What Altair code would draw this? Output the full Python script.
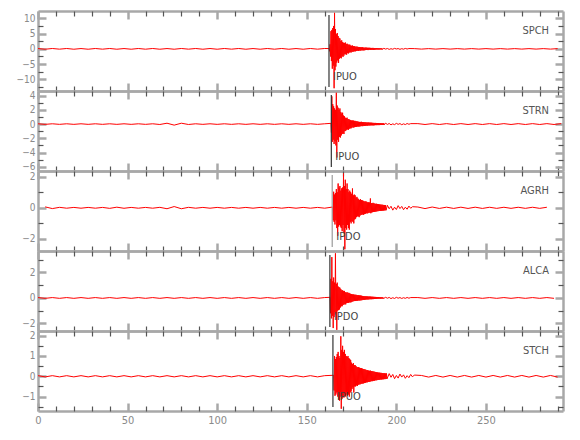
import altair as alt
import numpy as np
import pandas as pd

# ---------------- data ----------------
stations = ["SPCH", "STRN", "AGRH", "ALCA", "STCH"]
pick_times = [162.4, 163.7, 164.2, 162.9, 164.6]
pick_labels = ["IPUO", "IPUO", "IPDO", "IPDO", "IPUO"]

PRE_STEP, EVENT_STEP, CODA_STEP, TAIL_STEP = 4.0, 0.25, 1.0, 4.0
pre_start = [0.0, 0.0, 4.0, 0.0, 0.0]
event_start = [162.5, 163.5, 164.5, 163.0, 165.0]
coda_start = [193.0, 194.0, 195.0, 194.0, 196.0]
tail_start = [210.0, 212.0, 212.0, 212.0, 214.0]

# ---- SPCH ----
spch_pre = [0.1, -0.12, 0.12, -0.1, 0.12, -0.12, 0.1, -0.12, 0.12, -0.1,
            0.12, -0.12, 0.1, -0.12, 0.12, -0.11, 0.12, -0.12, 0.1, -0.12,
            0.12, -0.1, 0.12, -0.12, 0.11, -0.12, 0.12, -0.1, 0.12, -0.12,
            0.1, -0.12, 0.12, -0.11, 0.12, -0.12, 0.1, -0.12, 0.12, -0.1, 0.12]
spch_event = [
    0.1, -0.8, 1.5, -2.5, 5.8, -4.0, 6.2, -6.5,
    6.8, -5.5, 7.5, -12.9, 11.8, -7.0, 6.5, -5.8,
    4.8, -4.5, 5.2, -3.8, 4.2, -4.6, 3.6, -3.2,
    3.4, -2.9, 2.6, -3.1, 2.8, -2.4, 2.2, -2.6,
    2.0, -2.2, 1.9, -1.7, 2.1, -1.8, 1.6, -1.9,
    1.7, -1.4, 1.5, -1.5, 1.3, -1.2, 1.4, -1.1,
    1.1, -1.2, 1.0, -0.9, 1.1, -1.0, 0.9, -0.85,
    0.9, -0.8, 0.75, -0.8, 0.7, -0.65, 0.75, -0.6,
    0.65, -0.7, 0.6, -0.55, 0.6, -0.6, 0.5, -0.55,
    0.5, -0.45, 0.55, -0.5, 0.45, -0.5, 0.4, -0.45,
    0.4, -0.4, 0.45, -0.35, 0.4, -0.38, 0.35, -0.4,
    0.35, -0.32, 0.35, -0.3, 0.32, -0.35, 0.3, -0.3,
    0.3, -0.28, 0.32, -0.3, 0.25, -0.28, 0.28, -0.25,
    0.25, -0.22, 0.25, -0.2, 0.22, -0.25, 0.2, -0.22,
    0.2, -0.22, 0.2, -0.18, 0.2, -0.2, 0.18, -0.2]
spch_coda = [0.18, -0.08, 0.12, -0.17, 0.05, -0.12, 0.16, -0.04, 0.1, -0.15,
             0.06, -0.1, 0.14, -0.05, 0.1]
spch_tail = [0.08, -0.08, 0.08, -0.08, 0.08, -0.08, 0.08, -0.08, 0.08, -0.08,
             0.08, -0.08, 0.08, -0.08, 0.08, -0.08, 0.08, -0.08, 0.08, -0.08, 0.08]

# ---- STRN ----
strn_pre = [0.04, -0.04, 0.04, -0.04, 0.04, -0.04, 0.04, -0.04, 0.04, -0.04,
            0.04, -0.04, 0.04, -0.04, 0.04, -0.04, 0.04, -0.06, 0.12, -0.15,
            0.12, -0.06, 0.04, -0.04, 0.04, -0.04, 0.04, -0.04, 0.04, -0.04,
            0.04, -0.04, 0.04, -0.04, 0.04, -0.04, 0.04, -0.04, 0.04, -0.04, 0.04]
strn_event = [
    0.1, -1.2, 3.9, -2.5, 2.8, -2.2, 2.5, -2.8,
    2.2, -2.4, 2.0, -3.0, 4.4, -4.7, 2.6, -2.2,
    2.3, -2.5, 2.0, -1.8, 2.2, -1.9, 1.7, -1.6,
    1.5, -1.4, 1.6, -1.3, 1.2, -1.4, 1.1, -1.0,
    0.9, -0.95, 0.85, -0.8, 0.9, -0.75, 0.7, -0.8,
    0.7, -0.65, 0.6, -0.6, 0.55, -0.6, 0.5, -0.5,
    0.5, -0.45, 0.5, -0.5, 0.45, -0.42, 0.45, -0.4,
    0.4, -0.38, 0.4, -0.35, 0.35, -0.35, 0.32, -0.35,
    0.3, -0.32, 0.3, -0.3, 0.32, -0.28, 0.28, -0.3,
    0.28, -0.25, 0.27, -0.25, 0.25, -0.24, 0.25, -0.22,
    0.22, -0.24, 0.22, -0.2, 0.22, -0.2, 0.2, -0.2,
    0.2, -0.18, 0.2, -0.18, 0.18, -0.18, 0.17, -0.18,
    0.16, -0.17, 0.16, -0.15, 0.16, -0.15, 0.15, -0.15,
    0.15, -0.14, 0.14, -0.15, 0.13, -0.14, 0.14, -0.12,
    0.13, -0.12, 0.13, -0.12, 0.12, -0.12, 0.12, -0.11]
strn_coda = [0.12, -0.05, 0.08, -0.11, 0.03, -0.08, 0.1, -0.04, 0.07, -0.09,
             0.03, -0.07, 0.08, -0.03, 0.06]
strn_tail = [0.06, -0.06, 0.06, -0.06, 0.06, -0.06, 0.06, -0.06, 0.06, -0.06,
             0.06, -0.06, 0.06, -0.06, 0.06, -0.06, 0.06, -0.06, 0.06, -0.06, 0.06]

# ---- AGRH ----
agrh_pre = [0.06, -0.05, 0.03, -0.025, 0.025, -0.025, 0.025, -0.025, 0.025, -0.035,
            0.04, -0.03, 0.025, -0.025, 0.025, -0.025, 0.03, -0.06, 0.08, -0.06,
            0.03, -0.025, 0.025, -0.025, 0.025, -0.025, 0.025, -0.025, 0.025, -0.025,
            0.025, -0.025, 0.025, -0.025, 0.025, -0.025, 0.025, -0.025, 0.025, -0.025]
agrh_event = [
    0.05, -0.8, 1.03, -0.9, 0.85, -1.07, 0.95, -0.8,
    1.2, -1.3, 1.0, -1.8, 1.56, -1.2, 1.3, -1.1,
    1.4, -1.2, 1.1, -1.3, 1.25, -1.5, 1.3, -1.1,
    2.2, -1.6, 1.4, -2.66, 1.8, -1.3, 1.2, -1.4,
    1.56, -1.1, 1.2, -1.3, 1.0, -1.4, 1.1, -0.9,
    1.0, -1.0, 0.9, -0.85, 1.24, -0.9, 0.8, -1.0,
    0.85, -0.75, 0.8, -0.7, 0.65, -0.6, 0.7, -0.55,
    0.6, -0.55, 0.55, -0.6, 0.5, -0.5, 0.55, -0.45,
    0.5, -0.45, 0.48, -0.42, 0.45, -0.45, 0.42, -0.4,
    0.4, -0.38, 0.42, -0.35, 0.38, -0.36, 0.35, -0.34,
    0.35, -0.3, 0.34, -0.32, 0.6, -0.35, 0.3, -0.3,
    0.3, -0.28, 0.32, -0.27, 0.28, -0.26, 0.27, -0.25,
    0.25, -0.24, 0.26, -0.22, 0.24, -0.22, 0.23, -0.2,
    0.22, -0.2, 0.21, -0.2, 0.2, -0.19, 0.2, -0.18,
    0.19, -0.18, 0.18, -0.17, 0.18, -0.16, 0.17, -0.16]
agrh_coda = [0.16, -0.06, 0.1, -0.15, 0.04, -0.11, 0.14, -0.05, 0.09, -0.12,
             0.04, -0.09, 0.11, -0.03, 0.07]
agrh_tail = [0.05, -0.05, 0.05, -0.04, 0.04, -0.04, 0.04, -0.04, 0.04, -0.04,
             0.035, -0.035, 0.035, -0.035, 0.035, -0.035, 0.035, -0.035, 0.035]

# ---- ALCA ----
alca_pre = [0.03, -0.03, 0.03, -0.03, 0.03, -0.03, 0.03, -0.03, 0.03, -0.03,
            0.03, -0.03, 0.03, -0.03, 0.03, -0.03, 0.03, -0.03, 0.03, -0.03,
            0.03, -0.03, 0.03, -0.03, 0.03, -0.03, 0.03, -0.03, 0.03, -0.03,
            0.03, -0.03, 0.03, -0.03, 0.03, -0.03, 0.03, -0.03, 0.03, -0.03, 0.03]
alca_event = [
    0.05, -1.2, 1.5, -1.6, 3.2, -1.4, 1.3, -2.36,
    1.6, -1.5, 1.2, -1.3, 3.5, -1.2, 1.1, -2.5,
    1.2, -1.0, 0.9, -0.95, 0.85, -0.9, 0.8, -0.75,
    0.7, -0.65, 0.6, -0.65, 0.6, -0.55, 0.55, -0.5,
    0.55, -0.5, 0.45, -0.5, 0.42, -0.4, 0.45, -0.38,
    0.4, -0.38, 0.4, -0.35, 0.36, -0.35, 0.32, -0.34,
    0.3, -0.3, 0.28, -0.27, 0.28, -0.25, 0.26, -0.24,
    0.25, -0.24, 0.25, -0.22, 0.23, -0.22, 0.22, -0.2,
    0.22, -0.2, 0.2, -0.2, 0.19, -0.18, 0.18, -0.18,
    0.16, -0.15, 0.15, -0.15, 0.14, -0.14, 0.14, -0.13,
    0.13, -0.12, 0.13, -0.12, 0.12, -0.12, 0.11, -0.11,
    0.11, -0.1, 0.11, -0.1, 0.1, -0.1, 0.1, -0.09,
    0.09, -0.09, 0.09, -0.08, 0.08, -0.08, 0.08, -0.08,
    0.07, -0.07, 0.07, -0.07, 0.07, -0.06, 0.06, -0.06,
    0.06, -0.06, 0.06, -0.05, 0.06, -0.05, 0.05, -0.05]
alca_coda = [0.05, -0.02, 0.04, -0.05, 0.02, -0.04, 0.05, -0.02, 0.03, -0.04,
             0.02, -0.03, 0.04, -0.02, 0.03]
alca_tail = [0.03, -0.03, 0.03, -0.03, 0.03, -0.03, 0.03, -0.03, 0.03, -0.03,
             0.03, -0.03, 0.03, -0.03, 0.03, -0.03, 0.03, -0.03, 0.03, -0.03]

# ---- STCH ----
stch_pre = [0.03, -0.03, 0.03, -0.03, 0.03, -0.03, 0.03, -0.03, 0.03, -0.03,
            0.03, -0.03, 0.03, -0.03, 0.03, -0.03, 0.03, -0.03, 0.03, -0.03,
            0.03, -0.03, 0.03, -0.03, 0.03, -0.03, 0.03, -0.03, 0.03, -0.03,
            0.03, -0.03, 0.03, -0.03, 0.03, -0.03, 0.03, -0.03, 0.03, -0.03, 0.03]
stch_event = [
    0.05, -0.7, 1.0, -0.96, 0.85, -0.9, 0.95, -0.8,
    1.1, -1.0, 1.2, -1.15, 1.0, -1.2, 0.9, -1.0,
    1.97, -1.6, 1.3, -1.1, 1.5, -1.0, 1.2, -1.05,
    1.3, -0.95, 1.1, -1.0, 1.0, -0.9, 0.95, -0.95,
    1.0, -0.9, 0.9, -1.0, 0.85, -0.8, 0.8, -0.75,
    0.67, -0.63, 0.6, -0.55, 0.65, -0.8, 0.55, -0.5,
    0.55, -0.5, 0.5, -0.45, 0.45, -0.48, 0.45, -0.42,
    0.45, -0.4, 0.42, -0.4, 0.4, -0.38, 0.4, -0.36,
    0.38, -0.36, 0.36, -0.35, 0.35, -0.33, 0.34, -0.32,
    0.32, -0.3, 0.3, -0.3, 0.3, -0.28, 0.28, -0.28,
    0.27, -0.27, 0.28, -0.25, 0.26, -0.24, 0.25, -0.24,
    0.24, -0.22, 0.23, -0.22, 0.22, -0.2, 0.21, -0.2,
    0.2, -0.19, 0.19, -0.18, 0.18, -0.18, 0.18, -0.17,
    0.17, -0.16, 0.17, -0.16, 0.16, -0.15, 0.16, -0.15,
    0.15, -0.14, 0.15, -0.14, 0.14, -0.13, 0.14, -0.13]
stch_coda = [0.13, -0.05, 0.09, -0.12, 0.04, -0.09, 0.11, -0.04, 0.07, -0.1,
             0.03, -0.07, 0.09, -0.03, 0.06]
stch_tail = [0.04, -0.04, 0.04, -0.04, 0.04, -0.04, 0.04, -0.04, 0.04, -0.04,
             0.04, -0.04, 0.04, -0.04, 0.04, -0.04, 0.04, -0.04, 0.04, -0.04]

traces = [
    (spch_pre, spch_event, spch_coda, spch_tail),
    (strn_pre, strn_event, strn_coda, strn_tail),
    (agrh_pre, agrh_event, agrh_coda, agrh_tail),
    (alca_pre, alca_event, alca_coda, alca_tail),
    (stch_pre, stch_event, stch_coda, stch_tail),
]

y_domains = [[-13.8, 12.4], [-6.6, 4.65], [-2.77, 2.36], [-2.59, 3.68], [-1.71, 2.23]]
y_major = [[-10, -5, 0, 5, 10], [-6, -4, -2, 0, 2, 4], [-2, 0, 2], [-2, 0, 2], [-1, 0, 1, 2]]
y_minor = [[-12.5, -7.5, -2.5, 2.5, 7.5], [-5, -3, -1, 1, 3], [-1, 1], [-1, 1, 3],
           [-1.5, -0.5, 0.5, 1.5]]
x_major = [0, 50, 100, 150, 200, 250]
x_minor = [10, 20, 30, 40, 60, 70, 80, 90, 110, 120, 130, 140, 160, 170, 180, 190,
           210, 220, 230, 240, 260, 270, 280, 290]
X_DOMAIN = [0, 293]

# ---------------- styling ----------------
W, H = 525, 80
FONT = "Liberation Sans Narrow, DejaVu Sans Condensed, Liberation Sans, sans-serif"
BORDER = "#a8a8a8"
MINOR = "#555555"
LABEL = "#8a8a8a"
pick_colors = ["#333333", "#333333", "#9a9a9a", "#333333", "#333333"]


def tick_axis(orient, offset, values, major):
    return alt.Axis(
        orient=orient, offset=offset, values=values, labels=False, ticks=True,
        tickSize=8 if major else 5, tickWidth=2.5 if major else 1.2,
        tickColor=BORDER if major else MINOR, domain=major,
        domainColor=BORDER, domainWidth=2.5, grid=False, title=None,
    )


def build_df(i):
    pre, ev, coda, tail = (np.array(a, dtype=float) for a in traces[i])
    t_pre = pre_start[i] + PRE_STEP * np.arange(len(pre))
    t_ev = event_start[i] + EVENT_STEP * np.arange(len(ev))
    t_co = coda_start[i] + CODA_STEP * np.arange(len(coda))
    t_ta = tail_start[i] + TAIL_STEP * np.arange(len(tail))
    m1 = t_pre < t_ev[0]
    m2 = t_co > t_ev[-1]
    m3 = (t_ta > t_co[-1]) & (t_ta <= X_DOMAIN[1])
    t = np.concatenate([t_pre[m1], t_ev, t_co[m2], t_ta[m3]])
    v = np.concatenate([pre[m1], ev, coda[m2], tail[m3]])
    return pd.DataFrame({"t": t, "v": v})


def panel(i, last):
    xs = alt.Scale(domain=X_DOMAIN, nice=False, zero=False)
    ys = alt.Scale(domain=y_domains[i], nice=False, zero=False)
    df = build_df(i)
    dummy = pd.DataFrame({"t": X_DOMAIN, "v": y_domains[i]})

    line = alt.Chart(df).mark_line(color="#ff0000", strokeWidth=1, clip=True).encode(
        x=alt.X("t:Q", scale=xs, axis=tick_axis("bottom", -H, x_major, True)),
        y=alt.Y("v:Q", scale=ys, axis=tick_axis("right", -W, y_major[i], True)),
        order="t:Q",
    )
    l1 = alt.Chart(dummy).mark_point(opacity=0).encode(
        x=alt.X("t:Q", scale=xs, axis=tick_axis("bottom", -H, x_minor, False)),
        y=alt.Y("v:Q", scale=ys, axis=tick_axis("right", -W, y_minor[i], False)),
    )
    l2 = alt.Chart(dummy).mark_point(opacity=0).encode(
        x=alt.X("t:Q", scale=xs, axis=tick_axis("top", -H, x_major, True)),
        y=alt.Y("v:Q", scale=ys, axis=tick_axis("left", -W, y_major[i], True)),
    )
    l3 = alt.Chart(dummy).mark_point(opacity=0).encode(
        x=alt.X("t:Q", scale=xs, axis=tick_axis("top", -H, x_minor, False)),
        y=alt.Y("v:Q", scale=ys, axis=tick_axis("left", -W, y_minor[i], False)),
    )
    ylab = alt.Axis(orient="left", values=y_major[i], ticks=False, tickSize=0,
                    domain=False, labels=True, labelColor=LABEL, labelFont=FONT,
                    labelFontSize=10, labelPadding=3, grid=False, title=None,
                    minExtent=30, maxExtent=30)
    if last:
        xlab = alt.Axis(orient="bottom", values=x_major, ticks=False, tickSize=0,
                        domain=False, labels=True, labelColor=LABEL, labelFont=FONT,
                        labelFontSize=11, labelPadding=3, labelFlush=False,
                        grid=False, title=None)
    else:
        xlab = None
    l4 = alt.Chart(dummy).mark_point(opacity=0).encode(
        x=alt.X("t:Q", scale=xs, axis=xlab),
        y=alt.Y("v:Q", scale=ys, axis=ylab),
    )
    pk = pd.DataFrame({"t": [pick_times[i]], "label": [pick_labels[i]],
                       "station": [stations[i]]})
    rule = alt.Chart(pk).mark_rule(color=pick_colors[i], strokeWidth=1.2).encode(
        x=alt.X("t:Q", scale=xs, axis=None),
        y=alt.value(4), y2=alt.value(H - 4),
    )
    ptxt = alt.Chart(pk).mark_text(align="left", baseline="middle", dx=4, font=FONT,
                                   fontSize=11, color="#444444").encode(
        x=alt.X("t:Q", scale=xs, axis=None), y=alt.value(H - 14), text="label:N",
    )
    stxt = alt.Chart(pk).mark_text(align="right", baseline="middle", font=FONT,
                                   fontSize=11, color="#555555").encode(
        x=alt.value(W - 14), y=alt.value(20), text="station:N",
    )
    return alt.layer(line, rule, l1, l2, l3, l4, ptxt, stxt).resolve_axis(
        x="independent", y="independent"
    ).properties(width=W, height=H)


panels = [panel(i, i == len(stations) - 1) for i in range(len(stations))]
chart = alt.vconcat(*panels, spacing=0, bounds="flush").properties(
    padding={"left": 0, "top": 0, "right": 0, "bottom": 0}
).configure_view(stroke=None)

chart.save("out.html", embed_options={"renderer": "svg", "actions": False})
